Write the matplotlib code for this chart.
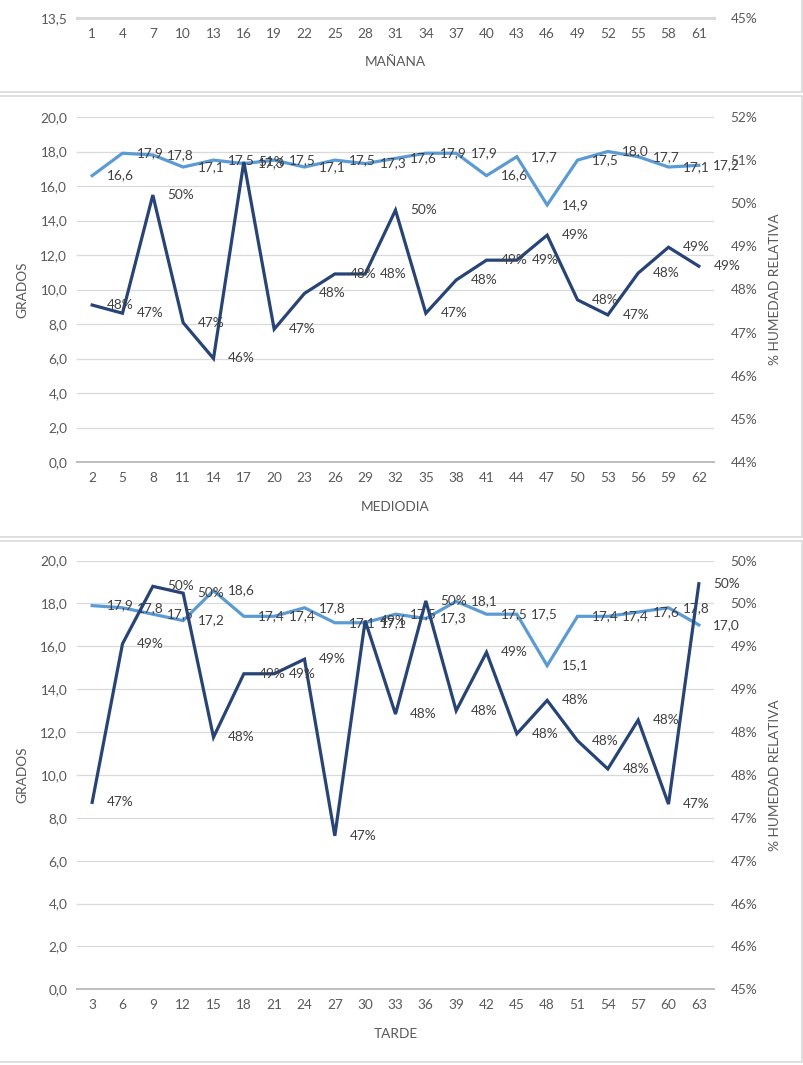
import matplotlib
matplotlib.use('Agg')
import matplotlib.pyplot as plt
from matplotlib.patches import Rectangle
from matplotlib.ticker import FixedLocator, FuncFormatter
import math

plt.rcParams['font.family'] = ['Lato', 'DejaVu Sans']

W, H = 804, 1065

# ---------------- data ----------------
manana_x = list(range(1, 62, 3))
mediodia_x = list(range(2, 63, 3))
tarde_x = list(range(3, 64, 3))

mediodia_temp = [16.6, 17.9, 17.8, 17.1, 17.5, 17.3, 17.5, 17.1, 17.5, 17.3, 17.6,
                 17.9, 17.9, 16.6, 17.7, 14.9, 17.5, 18.0, 17.7, 17.1, 17.2]
mediodia_hum = [47.64, 47.45, 50.19, 47.23, 46.40, 50.96, 47.08, 47.91, 48.36, 48.36, 49.84,
                47.45, 48.22, 48.68, 48.68, 49.26, 47.76, 47.41, 48.38, 48.98, 48.54]

tarde_temp = [17.9, 17.8, 17.5, 17.2, 18.6, 17.4, 17.4, 17.8, 17.1, 17.1, 17.5,
              17.3, 18.1, 17.5, 17.5, 15.1, 17.4, 17.4, 17.6, 17.8, 17.0]
tarde_hum = [47.18, 49.03, 49.70, 49.62, 47.94, 48.68, 48.68, 48.85, 46.79, 49.30, 48.21,
             49.53, 48.25, 48.93, 47.98, 48.37, 47.90, 47.57, 48.14, 47.16, 49.73]

LIGHT = '#5B9BD5'
DARK = '#264478'
TICK_C = '#595959'
LAB_C = '#404040'
GRID_C = '#D9D9D9'
FS = 9.8

fig = plt.figure(figsize=(W / 100, H / 100), dpi=100)
fig.patch.set_facecolor('white')

# panel frames
for (t, b) in [(-10, 92), (96, 537), (541, 1062)]:
    fig.patches.append(Rectangle((-2 / W, 1 - b / H), 804 / W, (b - t) / H,
                                 transform=fig.transFigure, facecolor='none',
                                 edgecolor=GRID_C, lw=1.2, zorder=-10))


def half_up(v):
    return int(math.floor(v + 0.5))


def px_axes(left, top, right, bottom):
    return fig.add_axes([left / W, 1 - bottom / H, (right - left) / W, (bottom - top) / H])


def style(ax, ax2, cats, lticks, rticks, rfmt):
    n = len(cats)
    ax.set_xlim(-0.5, n - 0.5)
    ax.set_xticks(range(n))
    ax.set_xticklabels([str(c) for c in cats])
    ax.yaxis.set_major_locator(FixedLocator(lticks))
    ax.yaxis.set_major_formatter(FuncFormatter(lambda v, p: f"{v:.1f}".replace('.', ',')))
    ax2.yaxis.set_major_locator(FixedLocator(rticks))
    ax2.yaxis.set_major_formatter(FuncFormatter(rfmt))
    for a in (ax, ax2):
        for s in ('top', 'left', 'right'):
            a.spines[s].set_visible(False)
        a.spines['bottom'].set_color('#BFBFBF')
        a.spines['bottom'].set_linewidth(1.3)
        a.tick_params(length=0, labelsize=FS, colors=TICK_C)
        a.set_facecolor('none')
    ax.tick_params(axis='y', pad=7)
    ax.tick_params(axis='x', pad=7)
    ax2.tick_params(axis='y', pad=12)
    ax.yaxis.grid(True, color=GRID_C, lw=0.9)
    ax.set_axisbelow(True)


def pct_fmt(v, p):
    return f"{half_up(v)}%"


def draw_panel(top, bottom, cats, temp, hum, lmax, lstep, rlo, rhi, rstep, xtitle):
    ax = px_axes(77, top, 714, bottom)
    ax2 = ax.twinx()
    ax.set_ylim(0, lmax)
    ax2.set_ylim(rlo, rhi)
    nl = int(round(lmax / lstep))
    nr = int(round((rhi - rlo) / rstep))
    style(ax, ax2, cats, [i * lstep for i in range(nl + 1)],
          [rlo + i * rstep for i in range(nr + 1)], pct_fmt)
    xs = list(range(len(cats)))
    ax.plot(xs, temp, color=LIGHT, lw=2.3, solid_joinstyle='miter', zorder=3)
    ax2.plot(xs, hum, color=DARK, lw=2.3, solid_joinstyle='miter', zorder=3)
    for x, v in zip(xs, temp):
        ax.annotate(f"{v:.1f}".replace('.', ','), (x, v), xytext=(10.5, 0),
                    textcoords='offset points', ha='left', va='center',
                    fontsize=FS, color=LAB_C, zorder=5)
    for x, v in zip(xs, hum):
        ax2.annotate(f"{half_up(v)}%", (x, v), xytext=(10.5, 0),
                     textcoords='offset points', ha='left', va='center',
                     fontsize=FS, color=LAB_C, zorder=5)
    mid = (top + bottom) / 2
    fig.text(22 / W, 1 - mid / H, 'GRADOS', rotation=90, ha='center', va='center',
             fontsize=FS, color=TICK_C)
    fig.text(775 / W, 1 - mid / H, '% HUMEDAD RELATIVA', rotation=90, ha='center',
             va='center', fontsize=FS, color=TICK_C)
    fig.text(395.5 / W, 1 - (bottom + 45) / H, xtitle, ha='center', va='center',
             fontsize=FS, color=TICK_C)
    return ax, ax2


# ---------------- top panel (cut off) ----------------
ax0 = px_axes(77, -300, 714, 18)
ax0b = ax0.twinx()
ax0.set_ylim(13.5, 20)
ax0b.set_ylim(45, 52)
style(ax0, ax0b, manana_x, [13.5], [45], pct_fmt)
ax0.spines['bottom'].set_color(GRID_C)
ax0.spines['bottom'].set_linewidth(2.2)
ax0b.spines['bottom'].set_visible(False)
ax0.yaxis.grid(False)
fig.text(395.5 / W, 1 - 62 / H, 'MAÑANA', ha='center', va='center', fontsize=FS, color=TICK_C)

# ---------------- middle panel ----------------
draw_panel(117, 462, mediodia_x, mediodia_temp, mediodia_hum,
           20, 2, 44, 52, 1, 'MEDIODIA')

# ---------------- bottom panel ----------------
draw_panel(560.6, 989.3, tarde_x, tarde_temp, tarde_hum,
           20, 2, 45, 50, 0.5, 'TARDE')

fig.savefig('out.png', dpi=100, facecolor='white')
